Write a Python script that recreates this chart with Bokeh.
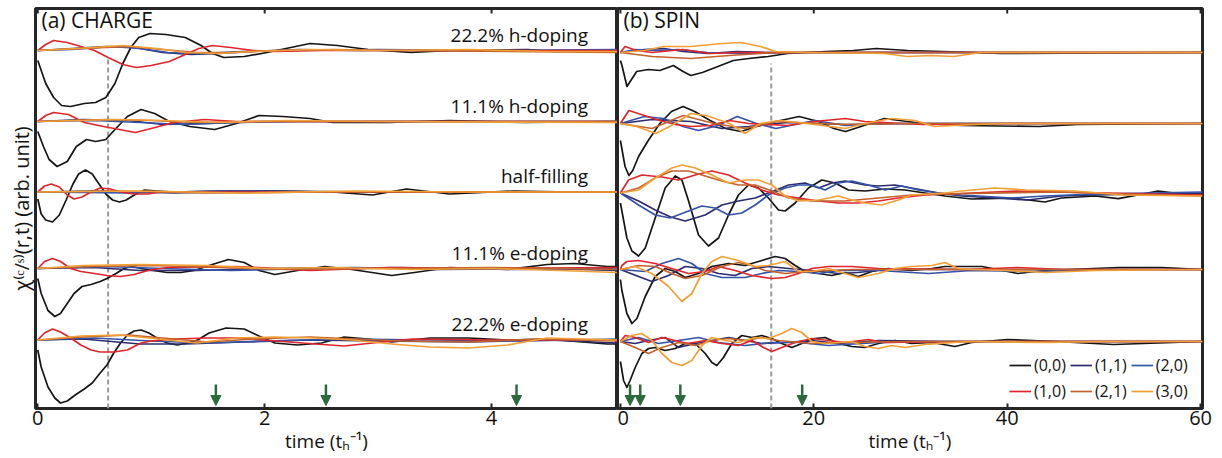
from bokeh.plotting import figure
from bokeh.layouts import row
from bokeh.models import (Range1d, FixedTicker, Label, Legend, LegendItem,
                          Arrow, NormalHead, Title)
from bokeh.embed import file_html
from bokeh.resources import INLINE

# ---------------- data ----------------
SERIES = ["(0,0)", "(1,1)", "(2,0)", "(1,0)", "(2,1)", "(3,0)"]
COLORS = {"(0,0)": "#151515", "(1,1)": "#2c2b6e", "(2,0)": "#3353a8",
          "(1,0)": "#e2252c", "(2,1)": "#c3622c", "(3,0)": "#f2a035"}
LEVEL_LABELS = ["22.2% h-doping", "11.1% h-doping", "half-filling",
                "11.1% e-doping", "22.2% e-doping"]

# ---- (a) CHARGE : (time, response) samples ----
CH_H22 = {
    "(0,0)": [(0, -10), (0.07, -33), (0.14, -47), (0.21, -55), (0.29, -56), (0.41, -53), (0.51, -52),
              (0.60, -47), (0.68, -33), (0.75, -13), (0.82, 3), (0.89, 13), (0.99, 17), (1.13, 16),
              (1.30, 13), (1.44, 5), (1.54, -3), (1.64, -7), (1.82, -6), (2.02, -2), (2.23, 3),
              (2.40, 7), (2.64, 5), (2.91, 1), (3.29, -2), (3.63, 0), (4.32, 1), (4.55, -1), (5.11, 0)],
    "(1,1)": [(0, 0), (0.3, 2), (0.6, 4), (0.85, 3), (1.1, -2), (1.35, -4), (1.6, -3), (1.9, -1),
              (2.3, 1), (2.8, 0), (3.5, 0), (5.11, -1)],
    "(2,0)": [(0, 0), (0.3, 1), (0.65, 4), (0.9, 2), (1.15, -2), (1.45, -3), (1.8, -1), (2.2, 0),
              (3, 1), (4, 0), (5.11, 1)],
    "(1,0)": [(0, 0), (0.07, 6), (0.14, 10), (0.26, 8), (0.38, 4), (0.5, 0), (0.62, -7), (0.75, -14),
              (0.87, -17), (1.0, -15), (1.16, -11), (1.3, -4), (1.42, 2), (1.54, 5), (1.7, 3),
              (1.9, 0), (2.1, -1), (2.5, 0), (5.11, 0)],
    "(2,1)": [(0, 0), (0.4, 2), (0.8, 4), (1.1, 1), (1.4, -2), (1.7, -2), (2.1, 0), (2.6, 1),
              (3.2, 0), (5.11, -2)],
    "(3,0)": [(0, 0), (0.35, 2), (0.75, 5), (1.05, 2), (1.3, -2), (1.6, -3), (1.9, -1), (2.4, 1),
              (3.0, 0), (3.8, 1), (4.5, -1), (5.11, -1)],
}
CH_H11 = {
    "(0,0)": [(0, -10), (0.05, -25), (0.10, -38), (0.17, -45), (0.26, -40), (0.34, -25), (0.43, -18),
              (0.51, -20), (0.60, -18), (0.68, -8), (0.79, 5), (0.91, 12), (1.03, 8), (1.16, 0),
              (1.34, -5), (1.56, -8), (1.75, -2), (1.95, 6), (2.16, 5), (2.4, 3), (2.6, -1),
              (3.1, -1), (3.63, 1), (4.3, -1), (5.11, 0)],
    "(1,1)": [(0, 0), (0.4, 2), (0.8, 1), (1.1, -3), (1.5, -2), (2, 0), (3, 0), (5.11, 0)],
    "(2,0)": [(0, 0), (0.5, 1), (0.9, -1), (1.3, -3), (1.7, -1), (2.3, 0), (5.11, 0)],
    "(1,0)": [(0, 0), (0.07, 6), (0.14, 9), (0.27, 7), (0.41, -1), (0.58, -5), (0.72, -8),
              (0.86, -11), (1.0, -7), (1.2, -1), (1.47, 2), (1.75, 0), (2.5, 0), (5.11, 0)],
    "(2,1)": [(0, 0), (0.6, 2), (1.0, 1), (1.4, -1), (2, 0), (5.11, 0)],
    "(3,0)": [(0, 0), (0.7, 2), (1.1, 1), (1.6, -1), (2.2, 1), (3, 0), (5.11, -1)],
}
CH_HF = {
    "(0,0)": [(0, -7), (0.03, -22), (0.07, -28), (0.13, -30), (0.19, -23), (0.25, -8), (0.31, 8),
              (0.36, 18), (0.42, 22), (0.48, 18), (0.54, 8), (0.60, -2), (0.66, -8), (0.72, -10),
              (0.78, -8), (0.85, -3), (0.94, 2), (1.05, 1), (1.2, 0), (1.6, 1), (2.1, 1), (2.6, 0),
              (2.95, -3), (3.25, 3), (3.63, -2), (4.2, 1), (4.7, 0), (5.11, 0)],
    "(1,1)": [(0, 0), (0.5, 1), (1.2, -1), (2, 1), (3, 0), (5.11, 0)],
    "(2,0)": [(0, 0), (0.8, -1), (1.6, 1), (2.6, 0), (5.11, 0)],
    "(1,0)": [(0, 0), (0.06, 6), (0.12, 8), (0.19, 5), (0.26, -3), (0.32, -7), (0.39, -5),
              (0.47, 0), (0.55, 4), (0.64, 3), (0.73, 0), (0.85, -2), (0.97, -2), (1.08, 0),
              (1.5, 0), (5.11, 0)],
    "(2,1)": [(0, 0), (0.7, 1), (1.5, -1), (2.5, 0), (5.11, 0)],
    "(3,0)": [(0, 0), (0.9, 1), (1.8, -1), (2.8, 1), (3.8, 0), (5.11, 0)],
}
CH_E11 = {
    "(0,0)": [(0, -10), (0.03, -25), (0.09, -42), (0.15, -48), (0.2, -45), (0.26, -35), (0.32, -25),
              (0.39, -18), (0.47, -16), (0.55, -13), (0.61, -10), (0.69, -5), (0.76, 0), (0.83, 2),
              (0.91, 0), (1.02, -2), (1.14, -4), (1.26, -4), (1.38, -2), (1.51, 3), (1.68, 9),
              (1.82, 6), (1.95, -2), (2.09, -6), (2.29, -2), (2.53, 2), (2.77, -1), (3.12, -7),
              (3.32, -4), (3.63, 1), (4.14, -1), (4.49, 4), (4.73, 5), (5.02, 2), (5.11, 2)],
    "(1,1)": [(0, 0), (0.5, 1), (0.9, -2), (1.4, -2), (2.0, 0), (2.8, 1), (3.5, -1), (4.5, 0),
              (5.11, -2)],
    "(2,0)": [(0, 0), (0.6, 2), (1.1, 0), (1.7, -2), (2.4, 0), (3.2, 1), (4.2, -1), (5.11, 0)],
    "(1,0)": [(0, 0), (0.06, 7), (0.13, 10), (0.2, 7), (0.29, 0), (0.38, -3), (0.5, -5),
              (0.61, -7), (0.73, -8), (0.85, -6), (0.97, -2), (1.14, 1), (1.75, 2), (2.4, -2),
              (3.1, 1), (4, 0), (5.11, 1)],
    "(2,1)": [(0, 0), (0.5, 2), (1.0, 3), (1.6, 1), (2.2, -1), (3, 0), (4, 1), (5.11, -1)],
    "(3,0)": [(0, 0), (0.4, 3), (0.9, 4), (1.5, 3), (2.0, 0), (2.6, 1), (3.3, -1), (4.0, 0),
              (4.6, -2), (5.11, -4)],
}
CH_E22 = {
    "(0,0)": [(0, -10), (0.03, -27), (0.09, -47), (0.15, -58), (0.2, -63), (0.26, -61), (0.33, -55),
              (0.41, -49), (0.48, -43), (0.55, -33), (0.61, -25), (0.67, -13), (0.73, -3), (0.79, 5),
              (0.85, 9), (0.91, 10), (0.98, 7), (1.05, 2), (1.14, -3), (1.23, -5), (1.32, -3),
              (1.41, 0), (1.51, 7), (1.66, 12), (1.82, 11), (1.95, 4), (2.09, -3), (2.29, -5),
              (2.5, -3), (2.7, 3), (2.91, 1), (3.12, -2), (3.46, 2), (3.8, 2), (4.14, 0),
              (4.49, 1), (4.8, -2), (5.02, -4), (5.11, -4)],
    "(1,1)": [(0, 0), (0.4, 1), (0.9, -4), (1.3, -4), (1.8, -2), (2.4, 0), (3, -1), (3.8, -2),
              (4.5, 0), (5.11, -3)],
    "(2,0)": [(0, 0), (0.5, 2), (1.0, -1), (1.5, -3), (2.0, -1), (2.7, 1), (3.5, 0), (4.3, -1),
              (5.11, 1)],
    "(1,0)": [(0, 0), (0.06, 7), (0.13, 11), (0.2, 8), (0.29, 2), (0.38, -5), (0.47, -10),
              (0.55, -12), (0.67, -12), (0.79, -10), (0.91, -3), (1.0, -1), (1.2, 1), (1.5, 2),
              (1.8, 2), (2.1, -1), (2.45, -4), (2.7, -6), (2.95, -3), (3.3, 1), (4, 0), (5.11, 0)],
    "(2,1)": [(0, 0), (0.4, 3), (0.8, 5), (1.2, 1), (1.5, -2), (1.9, 1), (2.4, 3), (2.8, 1),
              (3.2, -1), (3.8, -2), (4.4, 1), (5.11, -1)],
    "(3,0)": [(0, 0), (0.38, 4), (0.72, 5), (1.06, 1), (1.4, -3), (1.75, 2), (2.09, 3), (2.43, 2),
              (2.77, 0), (3.12, -4), (3.46, -7), (3.8, -8), (4.14, -5), (4.49, 2), (4.8, 1),
              (5.11, 0)],
}

# ---- (b) SPIN : (time, response) samples ----
SP_H22 = {
    "(0,0)": [(0, -8), (0.16, -13), (0.68, -34), (1.08, -28), (1.68, -19), (2.88, -17), (4.08, -18),
              (5.48, -13), (6.48, -19), (7.28, -23), (8.48, -20), (10.08, -14), (11.68, -8),
              (13.28, -6), (15.28, -4), (17.28, -1), (21.28, 1), (24.08, 2), (26.48, 4), (28.08, 3),
              (29.68, 2), (33.28, 1), (39.28, -1), (60.2, 0)],
    "(1,1)": [(0, 0), (2.5, 3), (4.5, 4), (6.5, 1), (9, -1), (12, 1), (15, 0), (60.2, 0)],
    "(2,0)": [(0, 0), (1.5, 3), (3.5, 2), (6, 3), (9, 0), (13, -1), (17, 0), (60.2, 0)],
    "(1,0)": [(0, 0), (0.48, 6), (1.68, 2), (3.28, 0), (6.48, 3), (9.28, -1), (12, 0), (60.2, 0)],
    "(2,1)": [(0, 0), (3.28, -4), (7.28, -6), (11.28, -3), (15.28, -0.5), (20, 0), (60.2, 0)],
    "(3,0)": [(0, 0), (2.48, 2), (4.48, 6), (7.28, 6), (10.48, 9), (12.48, 10), (14.48, 6),
              (16.08, 1), (19.28, 0), (27.28, -1), (29.68, -4), (32.08, -3), (34.48, -4),
              (37.28, 0), (60.2, 0)],
}
SP_H11 = {
    "(0,0)": [(0, -17), (0.48, -43), (0.88, -52), (1.28, -47), (1.88, -33), (2.88, -17), (4.08, 0),
              (5.28, 12), (6.48, 17), (7.68, 12), (9.28, 3), (10.88, -5), (12.48, -8), (14.08, -3),
              (16.08, 2), (18.48, 7), (20.48, 2), (22.08, -5), (23.28, -8), (24.88, -3), (27.28, 5),
              (28.88, 3), (31.28, 0), (35.28, -2), (43.28, -3), (47.28, -1), (60.2, 0)],
    "(1,1)": [(0, 0), (3.28, 4), (7.28, 2), (10.48, -5), (13.28, -3), (17.28, 1), (23.28, -1),
              (30, 0), (60.2, 0)],
    "(2,0)": [(0, 0), (2.48, 7), (4.48, 5), (6.48, -3), (8.08, -7), (10.08, -2), (12.08, 7),
              (14.08, 0), (16.08, -5), (18.08, -1), (20.08, 3), (23.28, -2), (27.28, 0), (60.2, 0)],
    "(1,0)": [(0, 0), (0.88, 13), (2.48, 8), (4.08, 3), (5.68, -1), (7.28, -3), (9.28, -2),
              (11.28, 3), (13.28, 0), (17.28, -2), (20.08, 2), (23.28, 5), (25.28, 2), (31.28, -1),
              (40, 0), (60.2, 0)],
    "(2,1)": [(0, 0), (3.28, -5), (6.48, 8), (9.68, 0), (12.88, -5), (16.08, 2), (23.28, -1),
              (30, 0), (60.2, 0)],
    "(3,0)": [(0, 0), (1.68, -3), (3.68, -10), (5.28, -2), (7.28, 10), (8.88, 8), (11.28, 0),
              (12.88, -10), (14.48, 0), (16.48, 3), (19.28, 0), (23.28, -5), (25.28, 0), (28.08, 5),
              (30.48, 3), (32.48, -3), (34.48, -2), (39.28, 0), (60.2, 0)],
}
SP_HF = {
    "(0,0)": [(0, -10), (0.155, -18), (0.67, -45), (1.19, -58), (1.88, -63), (2.57, -55), (3.6, -25),
              (4.63, 5), (5.67, 17), (6.36, 13), (7.05, -8), (8.08, -42), (9.11, -53), (10.15, -45),
              (11.18, -22), (12.21, -2), (13.25, 8), (14.28, 5), (15.31, -5), (16.35, -17),
              (17.04, -18), (18.07, -10), (19.45, 5), (20.83, 13), (22.2, 10), (23.58, 3),
              (25.3, 2), (27.37, 4), (29.44, 3), (31.5, 0), (33.57, -3), (36.33, -6), (38.0, -5.7),
              (40.5, -5), (43.9, -9), (45.6, -5), (49.1, -3), (51.5, -5.7), (53.5, -2), (55.6, 2),
              (57.3, 0), (60.2, -1)],
    "(1,1)": [(0, 0), (1.88, -8), (3.6, -17), (5.2, -24), (6.7, -28), (8.77, -22), (10.5, -12),
              (12.21, -8), (13.94, -5), (15.31, 0), (17.4, 8), (19.1, 10), (20.5, 5), (21.86, 10),
              (23.24, 12), (25.3, 8), (26.68, 7), (28.4, 8), (30.1, 5), (32.9, 0), (35.3, -3),
              (38.7, -5), (42.1, -7), (45.6, -3), (49.1, -2), (60.2, 0)],
    "(2,0)": [(0, 0), (1.88, -12), (3.6, -22), (5.15, -25), (7.05, -18), (8.42, -13), (9.8, -15),
              (11.18, -22), (12.56, -20), (13.94, -12), (15.31, -2), (17.04, 5), (18.42, 8),
              (19.8, 8), (21.17, 3), (22.55, 10), (23.93, 12), (25.65, 8), (27.37, 3), (29.1, 7),
              (30.8, 3), (32.9, 0), (35.3, -2), (40.5, -5), (43.9, -3), (49.1, -1), (60.2, 1)],
    "(1,0)": [(0, 0), (0.84, 13), (2.22, 18), (4.29, 16), (6.01, 13), (7.74, 18), (9.46, 22),
              (11.18, 18), (12.9, 10), (14.62, 3), (16.35, -2), (18.42, -5), (20.5, -8),
              (22.55, -10), (24.6, -10), (26.68, -8), (28.75, -5), (31.5, -2), (36.33, 0),
              (41, 2), (50, 0), (60.2, -2)],
    "(2,1)": [(0, 0), (1.88, 5), (3.6, 15), (5.32, 22), (7.05, 22), (8.77, 17), (10.5, 12),
              (12.21, 8), (13.94, 8), (15.66, 2), (17.4, -5), (19.8, -8), (23.24, -8), (26.68, -5),
              (30.1, -2), (33.57, -1), (45, 1), (52, -1), (60.2, -3)],
    "(3,0)": [(0, 0), (1.88, 3), (3.6, 15), (5.32, 25), (6.36, 28), (7.74, 25), (9.46, 18),
              (11.18, 10), (12.9, 13), (14.28, 13), (15.66, 8), (17.04, -3), (18.42, -8),
              (20.5, -7), (22.55, -3), (23.93, -7), (25.3, -10), (27.0, -12), (28.75, -7),
              (30.1, -2), (33.57, 0), (35.3, 2), (38.7, 5), (42, 3), (47, 2), (52, -2), (60.2, -3)],
}
SP_E11 = {
    "(0,0)": [(0, -10), (0.155, -21), (0.67, -44), (1.19, -54), (1.71, -49), (2.57, -27), (3.6, -7),
              (4.63, 1), (5.67, -2), (6.7, -8), (8.08, -4), (9.46, 3), (11.18, 6), (12.9, 4),
              (14.28, 8), (16.0, 13), (17.04, 11), (18.07, 4), (19.1, -2), (20.5, -4), (21.86, -6),
              (23.24, -3), (24.6, -7), (26.0, -2), (27.7, 1), (30.1, -1), (32.2, 1), (33.57, 3),
              (37.4, 3), (41.1, -4), (43.9, -1), (51.5, 2), (56, 2), (60.2, 0)],
    "(1,1)": [(0, 0), (1.88, -7), (3.26, -12), (4.98, -6), (6.7, 3), (8.43, 1), (10.15, -4),
              (11.87, -6), (13.6, 1), (15.31, 3), (17.4, 1), (19.8, -1), (22.55, -4), (24.6, -3),
              (27.37, 0), (40, 0), (60.2, 0)],
    "(2,0)": [(0, 0), (2.57, -2), (4.29, 6), (6.01, 11), (7.39, 6), (8.77, -4), (10.5, -8),
              (12.9, -8), (14.62, -4), (16.35, -1), (18.42, -2), (20.5, -4), (22.55, -1),
              (26.68, -1), (31.86, -4), (36.3, -1), (43, -2), (50, 0), (60.2, 0)],
    "(1,0)": [(0, 0), (0.155, 4), (0.67, 8), (1.88, 9), (3.6, 6), (5.32, 1), (7.05, -4), (8.77, -2),
              (10.15, 3), (11.87, -1), (13.6, -6), (15.66, -9), (17.04, -8), (18.42, -4), (19.8, 1),
              (21.52, 3), (23.93, 3), (26.68, 1), (36, 0), (41, 2), (46, 0), (60.2, 0)],
    "(2,1)": [(0, 0), (1.88, 4), (3.6, 3), (5.32, -4), (6.7, -9), (8.43, -6), (10.5, 3), (12.21, 7),
              (13.6, 4), (14.97, -1), (17.04, -4), (19.1, -2), (21.5, -1), (23.93, 0), (60.2, 0)],
    "(3,0)": [(0, 0), (1.53, 3), (3.26, -4), (4.98, -17), (6.36, -32), (7.39, -24), (8.43, -4),
              (9.46, 8), (10.5, 13), (12.21, 9), (13.94, 3), (15.31, 4), (17.04, 8), (18.42, -2),
              (19.8, -2), (21.52, 1), (23.24, -4), (24.6, -8), (26.68, -4), (28.4, 1), (30.1, 3),
              (32.2, 4), (33.57, 7), (34.95, 1), (36.33, 0), (40, -1), (44, -3), (49, -1),
              (60.2, 0)],
}
SP_E22 = {
    "(0,0)": [(0, -20), (0.33, -39), (0.67, -46), (1.0, -39), (1.53, -26), (2.22, -12), (2.91, -7),
              (3.6, -6), (4.63, -9), (5.67, -7), (6.7, -2), (7.74, -2), (8.77, -12), (9.46, -21),
              (9.97, -24), (10.66, -16), (11.52, -2), (12.56, 6), (13.6, 4), (14.62, 6), (15.66, 3),
              (16.69, -2), (17.73, -6), (18.76, -2), (20.1, 3), (21.17, 4), (22.55, -2), (23.93, -5),
              (25.3, -6), (26.68, -2), (28.4, 1), (30.1, -2), (32.2, -1), (34.6, -5), (36.33, -1),
              (40, 2), (45, 0), (51, -3), (60.2, 0)],
    "(1,1)": [(0, 0), (1.53, -2), (2.91, 1), (4.63, 4), (6.01, -6), (7.74, -2), (9.46, 1),
              (11.18, 4), (12.9, 1), (14.62, -2), (17.04, -1), (19.8, 1), (22.55, -2), (26.68, 1),
              (35, 0), (60.2, 0)],
    "(2,0)": [(0, 0), (1.88, 4), (3.94, -2), (6.01, 1), (8.08, 4), (10.15, -1), (12.9, -4),
              (15.66, -1), (18.42, -1), (21.52, -4), (26.68, -1), (35, 0), (60.2, 0)],
    "(1,0)": [(0, 0), (0.5, 6), (1.53, 4), (2.91, -1), (4.29, 4), (5.67, 1), (6.98, -2), (8.77, 1),
              (10.5, -2), (12.21, -4), (13.6, 1), (14.8, -6), (15.66, -10), (16.69, -6), (18.07, -1),
              (19.8, 3), (21.5, 1), (23.24, -1), (25.65, 2), (27.37, -1), (36, 0), (60.2, 0)],
    "(2,1)": [(0, 0), (1.53, -6), (2.91, -12), (4.29, -6), (6.01, -1), (7.74, -4), (9.46, 1),
              (11.18, 3), (12.9, 1), (14.62, 4), (16.35, 1), (19.8, -2), (23.24, -1), (30, 0),
              (60.2, 0)],
    "(3,0)": [(0, 0), (1.19, 6), (2.22, 8), (3.26, 1), (4.29, -12), (5.32, -21), (6.36, -24),
              (7.39, -19), (8.43, -4), (9.46, 4), (10.84, 1), (12.21, -1), (13.94, 4), (15.31, 3),
              (16.69, 8), (17.73, 13), (18.76, 9), (19.8, 0), (21.17, -2), (22.55, -1), (23.93, 0),
              (25.3, -5), (26.68, -7), (28.06, -4), (29.44, -6), (31.5, -3), (36, 0), (44, -1),
              (50, 0), (60.2, 0)],
}

CHARGE_LEVELS = [CH_H22, CH_H11, CH_HF, CH_E11, CH_E22]
SPIN_LEVELS = [SP_H22, SP_H11, SP_HF, SP_E11, SP_E22]

TICKS_A = [0, 2, 4]
TICKS_B = [0, 20, 40, 60]
ARROWS_A = [1.57, 2.54, 4.22]
ARROWS_B = [1.0, 2.05, 6.2, 18.8]
DASH_A = 0.62
DASH_B = 15.6

# ---------------- layout constants ----------------
OFFSETS_A = [358, 287, 216.5, 140, 68.5]
OFFSETS_B = [356, 285, 215.5, 139, 67]
FONT = "Open Sans"
FRAME_COLOR = "#262626"
TEXT_COLOR = "#111111"
GREEN = "#2c6a3c"


def make_panel(title, levels, offsets, xr, ticks, arrows, dash_t, dash_top, width_px,
               border_left, border_right, show_levels):
    p = figure(frame_width=width_px, frame_height=400, output_backend="svg",
               toolbar_location=None, x_range=Range1d(*xr), y_range=Range1d(0, 400),
               min_border_left=border_left, min_border_right=border_right,
               min_border_top=8, min_border_bottom=10)
    p.grid.visible = False
    p.yaxis.visible = False
    p.outline_line_color = FRAME_COLOR
    p.outline_line_width = 3
    p.background_fill_color = "white"

    xa = p.xaxis[0]
    xa.ticker = FixedTicker(ticks=ticks)
    xa.axis_line_color = None
    xa.major_tick_in = 5
    xa.major_tick_out = 0
    xa.major_tick_line_width = 2
    xa.major_tick_line_color = FRAME_COLOR
    xa.minor_tick_line_color = None
    xa.major_label_text_font = FONT
    xa.major_label_text_font_size = "20px"
    xa.major_label_text_color = TEXT_COLOR
    xa.major_label_standoff = 2
    xa.axis_label = "time (tₕ⁻¹)"
    xa.axis_label_text_font = FONT
    xa.axis_label_text_font_style = "normal"
    xa.axis_label_text_font_size = "19px"
    xa.axis_label_text_color = TEXT_COLOR
    xa.axis_label_standoff = 0

    # mirrored tick marks on the top edge
    p.segment(x0=ticks, y0=[400] * len(ticks), x1=ticks, y1=[395] * len(ticks),
              line_color=FRAME_COLOR, line_width=2)

    # dashed marker line
    p.segment(x0=[dash_t], y0=[0], x1=[dash_t], y1=[dash_top], line_color="#9a9a9a",
              line_width=2, line_dash="5 3")

    renderers = {}
    for lvl, off in zip(levels, offsets):
        for s in SERIES:
            pts = lvl[s]
            xs = [t for t, v in pts]
            ys = [off + v for t, v in pts]
            r = p.line(xs, ys, line_color=COLORS[s], line_width=1.7, line_join="round")
            renderers.setdefault(s, r)

    if show_levels:
        for name, off in zip(LEVEL_LABELS, offsets):
            p.add_layout(Label(x=4.85, y=off + 3, text=name, text_align="right",
                               text_baseline="bottom", text_font=FONT,
                               text_font_size="19px", text_color=TEXT_COLOR))

    p.add_layout(Label(x=6, y=389, x_units="screen", y_units="screen", text=title,
                       text_font=FONT, text_font_size="21px", text_color=TEXT_COLOR,
                       text_baseline="middle"))

    for t in arrows:
        p.add_layout(Arrow(end=NormalHead(size=10, fill_color=GREEN, line_color=GREEN),
                           x_start=t, y_start=24, x_end=t, y_end=3,
                           line_color=GREEN, line_width=2.5))
    return p, renderers


pa, _ = make_panel("(a) CHARGE", CHARGE_LEVELS, OFFSETS_A, (-0.02, 5.11), TICKS_A,
                   ARROWS_A, DASH_A, 350, 582, 35, 0, True)
pa.add_layout(Title(text="χ⁽ᶜ/ˢ⁾(r,t) (arb. unit)", align="center", text_font=FONT,
                    text_font_size="20px", text_font_style="normal", text_color=TEXT_COLOR,
                    standoff=2), "left")

pb, rends = make_panel("(b) SPIN", SPIN_LEVELS, OFFSETS_B, (-0.3, 60.2), TICKS_B,
                       ARROWS_B, DASH_B, 345, 585, 0, 20, False)

legend = Legend(items=[LegendItem(label=s, renderers=[rends[s]]) for s in SERIES],
                orientation="horizontal", ncols=3, location=(392, 6),
                background_fill_alpha=0, border_line_color=None,
                label_text_font=FONT, label_text_font_size="16px",
                label_text_color=TEXT_COLOR, glyph_width=22, glyph_height=20,
                label_standoff=3, spacing=4, padding=0, margin=0, label_height=20)
pb.add_layout(legend, "center")

layout = row(pa, pb, spacing=0)
open("out.html", "w").write(file_html(layout, INLINE))
